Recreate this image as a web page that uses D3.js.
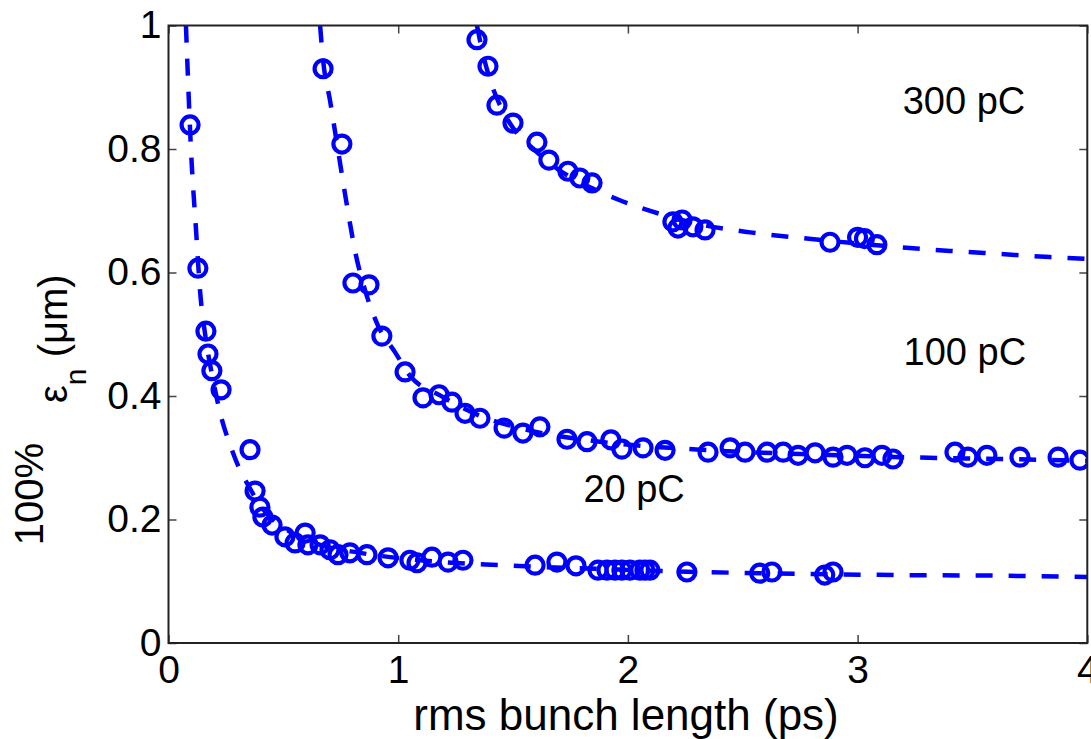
<!DOCTYPE html>
<html>
<head>
<meta charset="utf-8">
<script src="https://cdn.jsdelivr.net/npm/d3@7"></script>
<style>
  body { margin: 0; background: #fff; }
  svg { display: block; font-family: "Liberation Sans", Arial, sans-serif; }
</style>
</head>
<body>
<svg id="chart" width="1091" height="739"></svg>
<script>
'use strict';

// measured points, [bunch length (ps), emittance (um)]
const pts20 = [
  [0.094, 0.839], [0.128, 0.607], [0.163, 0.505], [0.172, 0.468], [0.189, 0.441],
  [0.229, 0.410], [0.355, 0.313], [0.377, 0.246], [0.398, 0.220], [0.411, 0.204],
  [0.451, 0.191], [0.507, 0.172], [0.551, 0.162], [0.595, 0.178], [0.607, 0.159],
  [0.660, 0.159], [0.703, 0.151], [0.738, 0.143], [0.790, 0.146], [0.864, 0.143],
  [0.956, 0.138], [1.051, 0.134], [1.082, 0.130], [1.147, 0.139], [1.217, 0.131],
  [1.282, 0.134], [1.596, 0.126], [1.691, 0.131], [1.774, 0.125], [1.870, 0.118],
  [1.909, 0.118], [1.944, 0.118], [1.974, 0.118], [2.009, 0.118], [2.052, 0.118],
  [2.074, 0.118], [2.096, 0.118], [2.257, 0.115], [2.574, 0.113], [2.627, 0.115],
  [2.857, 0.110], [2.893, 0.115]
];
const pts100 = [
  [0.673, 0.930], [0.755, 0.808], [0.803, 0.583], [0.873, 0.580], [0.929, 0.497],
  [1.030, 0.439], [1.108, 0.397], [1.178, 0.402], [1.234, 0.390], [1.291, 0.372],
  [1.356, 0.364], [1.461, 0.348], [1.543, 0.340], [1.617, 0.350], [1.735, 0.330],
  [1.822, 0.326], [1.926, 0.329], [1.974, 0.314], [2.066, 0.316], [2.162, 0.312],
  [2.349, 0.309], [2.445, 0.316], [2.510, 0.309], [2.606, 0.309], [2.676, 0.309],
  [2.741, 0.304], [2.815, 0.308], [2.893, 0.301], [2.954, 0.304], [3.032, 0.300],
  [3.106, 0.304], [3.154, 0.298], [3.424, 0.309], [3.480, 0.301], [3.563, 0.304],
  [3.707, 0.301], [3.873, 0.301], [3.968, 0.296]
];
const pts300 = [
  [1.343, 0.977], [1.391, 0.934], [1.430, 0.871], [1.500, 0.842], [1.604, 0.811],
  [1.656, 0.782], [1.739, 0.764], [1.791, 0.753], [1.844, 0.745], [2.196, 0.682],
  [2.236, 0.685], [2.218, 0.672], [2.283, 0.674], [2.336, 0.669], [2.880, 0.649],
  [3.000, 0.657], [3.030, 0.655], [3.084, 0.645]
];

// dashed fit curves
const fit20 = [
  [0.076, 1.0], [0.085, 0.912], [0.098, 0.798], [0.120, 0.668], [0.137, 0.572],
  [0.163, 0.491], [0.194, 0.426], [0.233, 0.361], [0.268, 0.321], [0.302, 0.288],
  [0.346, 0.256], [0.390, 0.228], [0.442, 0.204], [0.529, 0.180], [0.660, 0.159],
  [0.834, 0.146], [1.095, 0.134], [1.443, 0.126], [1.878, 0.120], [2.314, 0.115],
  [2.750, 0.112], [3.185, 0.110], [3.620, 0.109], [4.0, 0.107]
];
const fit100 = [
  [0.660, 1.0], [0.673, 0.944], [0.703, 0.879], [0.738, 0.798], [0.778, 0.706],
  [0.816, 0.628], [0.856, 0.571], [0.912, 0.514], [0.986, 0.471], [1.051, 0.433],
  [1.182, 0.401], [1.356, 0.368], [1.574, 0.344], [1.878, 0.326], [2.314, 0.313],
  [2.750, 0.306], [3.185, 0.301], [3.620, 0.298], [4.0, 0.295]
];
const fit300 = [
  [1.343, 1.0], [1.365, 0.960], [1.400, 0.912], [1.443, 0.871], [1.508, 0.830],
  [1.595, 0.798], [1.704, 0.765], [1.835, 0.738], [1.965, 0.717], [2.139, 0.695],
  [2.314, 0.678], [2.532, 0.665], [2.750, 0.656], [2.968, 0.648], [3.185, 0.641],
  [3.403, 0.635], [3.620, 0.630], [3.838, 0.625], [4.0, 0.622]
];

const xTicks = [0, 1, 2, 3, 4];
const yTicks = [0, 0.2, 0.4, 0.6, 0.8, 1];
const chargeLabels = [
  { text: "300 pC", x: 3.463, y: 0.857 },
  { text: "100 pC", x: 3.467, y: 0.450 },
  { text: "20 pC", x: 2.027, y: 0.228 }
];

const BLUE = "#0000ff";
const margin = { left: 168.5, top: 25.5 };
const W = 918.8, H = 617.5;

const svg = d3.select("#chart");
const x = d3.scaleLinear().domain([0, 4]).range([0, W]);
const y = d3.scaleLinear().domain([0, 1]).range([H, 0]);

const g = svg.append("g").attr("transform", "translate(" + margin.left + "," + margin.top + ")");

g.append("clipPath").attr("id", "clip")
  .append("rect").attr("width", W).attr("height", H);

/**
 * Axes, ticks pointing inwards like matlab
 */
function drawAxes() {
  const axStyle = (sel) => {
    sel.select(".domain").remove();
    sel.selectAll(".tick line").attr("stroke", "#444").attr("stroke-width", 1.5);
    sel.selectAll(".tick text").attr("fill", "#000").attr("font-size", 39)
      .attr("font-family", "Liberation Sans, Arial, sans-serif");
  };

  g.append("g").attr("transform", "translate(0," + H + ")")
    .call(d3.axisBottom(x).tickValues(xTicks).tickFormat(d3.format("d")).tickSize(-8).tickPadding(12))
    .call(axStyle);
  g.append("g")
    .call(d3.axisLeft(y).tickValues(yTicks).tickFormat((d) => String(+d.toFixed(1))).tickSize(-8).tickPadding(7))
    .call(axStyle);
  g.append("g")
    .call(d3.axisTop(x).tickValues(xTicks).tickFormat("").tickSize(-8))
    .call(axStyle);
  g.append("g").attr("transform", "translate(" + W + ",0)")
    .call(d3.axisRight(y).tickValues(yTicks).tickFormat("").tickSize(-8))
    .call(axStyle);

  g.append("rect").attr("width", W).attr("height", H)
    .attr("fill", "none").attr("stroke", "#222").attr("stroke-width", 2);
}

const line = d3.line()
  .x((d) => x(d[0]))
  .y((d) => y(d[1]))
  .curve(d3.curveMonotoneX);

const plot = g.append("g").attr("clip-path", "url(#clip)");

[fit20, fit100, fit300].forEach((fit) => {
  plot.append("path").datum(fit)
    .attr("d", line)
    .attr("fill", "none")
    .attr("stroke", BLUE)
    .attr("stroke-width", 4.5)
    .attr("stroke-dasharray", "17,16");
});

[pts20, pts100, pts300].forEach((pts) => {
  plot.append("g").selectAll("circle")
    .data(pts)
    .enter()
    .append("circle")
    .attr("cx", (d) => x(d[0]))
    .attr("cy", (d) => y(d[1]))
    .attr("r", 8.5)
    .attr("fill", "none")
    .attr("stroke", BLUE)
    .attr("stroke-width", 4.2);
});

drawAxes();

g.selectAll("text.charge")
  .data(chargeLabels)
  .enter()
  .append("text")
  .attr("class", "charge")
  .attr("x", (d) => x(d.x))
  .attr("y", (d) => y(d.y))
  .attr("text-anchor", "middle")
  .attr("font-size", 38)
  .text((d) => d.text);

// axis titles
svg.append("text")
  .attr("x", 626).attr("y", 730)
  .attr("text-anchor", "middle")
  .attr("font-size", 44)
  .text("rms bunch length (ps)");

svg.append("text")
  .attr("transform", "translate(43,494) rotate(-90)")
  .attr("text-anchor", "middle")
  .attr("font-size", 40)
  .text("100%");

const yl = svg.append("text")
  .attr("transform", "translate(67,403) rotate(-90)")
  .attr("text-anchor", "start")
  .attr("font-size", 40);
yl.append("tspan").text("ε");
yl.append("tspan").attr("font-size", 30).attr("dy", 19).text("n");
yl.append("tspan").attr("dy", -19).text(" (μm)");
</script>
</body>
</html>
